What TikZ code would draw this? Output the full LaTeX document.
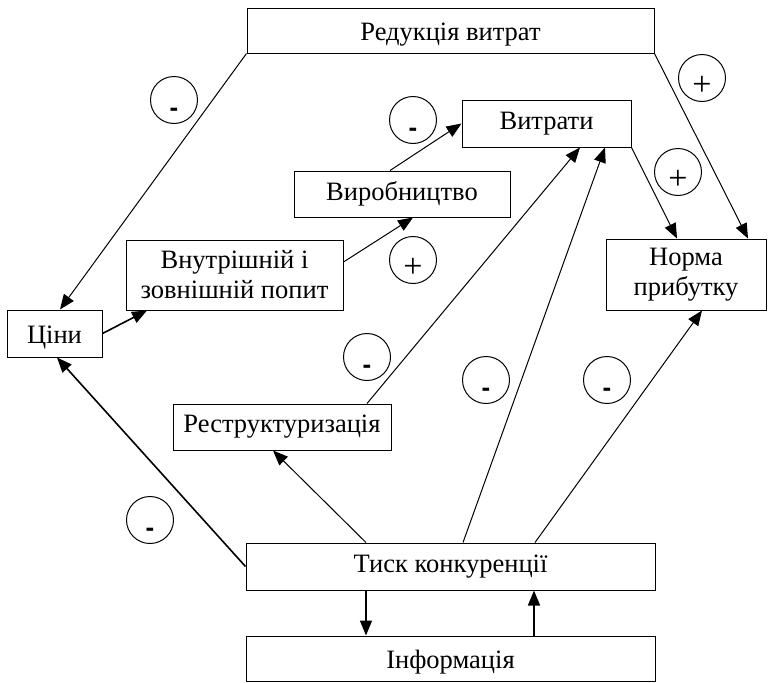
\documentclass[tikz,border=0pt]{standalone}
\usepackage{fontspec}
\setmainfont{Liberation Serif}
\newfontfamily\signfont{Liberation Sans}
\usetikzlibrary{arrows.meta}
\tikzset{
  box/.style={draw, line width=1pt, rectangle, inner sep=0pt, align=center,
    font=\fontsize{26.5}{30}\selectfont},
  low/.style={text height=25.5pt, text depth=5.5pt},
  sign/.style={draw, line width=1pt, circle, minimum size=47pt, inner sep=0pt},
  conn/.style={line width=1pt, -{Triangle[length=15pt,width=12pt]}},
  thickconn/.style={line width=1.6pt, -{Triangle[length=15pt,width=12pt]}},
  minus/.style={label={[yshift=-12pt, font=\signfont\bfseries\fontsize{26}{26}\selectfont]center:-}},
  plus/.style={label={[yshift=-8pt, font=\fontsize{34}{34}\selectfont]center:+}}
}
\begin{document}
\begin{tikzpicture}[x=1pt,y=-1pt]
\useasboundingbox (0,0) rectangle (769,683);
% boxes
\node[box, low, minimum width=407pt, minimum height=45pt] (red) at (450.5,30.5) {Редукція витрат};
\node[box, minimum width=169pt, minimum height=47pt] (vyt) at (546.5,123.5) {Витрати};
\node[box, minimum width=216pt, minimum height=46pt] (vyr) at (402,194) {Виробництво};
\node[box, minimum width=217pt, minimum height=70pt] (pop) at (234.5,275) {Внутрішній і\\зовнішній попит};
\node[box, low, minimum width=95pt, minimum height=47pt] (tsiny) at (54.5,333.5) {Ціни};
\node[box, minimum width=160pt, minimum height=71pt] (norma) at (686,274.5) {Норма\\прибутку};
\node[box, minimum width=218pt, minimum height=46pt] (restr) at (282,427) {Реструктуризація};
\node[box, minimum width=409pt, minimum height=47pt] (tysk) at (450.5,566.5) {Тиск конкуренції};
\node[box, low, minimum width=409pt, minimum height=45pt] (inf) at (450.5,658.5) {Інформація};
% sign circles
\node[sign, minus] (s1) at (174,100) {};
\node[sign, minus] (s2) at (413,120) {};
\node[sign, plus] (s3) at (702,78) {};
\node[sign, plus] (s4) at (678,172) {};
\node[sign, plus] (s5) at (413,260) {};
\node[sign, minus] (s6) at (367,357) {};
\node[sign, minus] (s7) at (150,520) {};
\node[sign, minus] (s8) at (486,380) {};
\node[sign, minus] (s9) at (607,380) {};
% connectors
\draw[conn] (red.south west) -- ([xshift=5.5pt]tsiny.north);
\draw[conn] (red.south east) -- ([xshift=62pt]norma.north);
\draw[conn] (vyt.south east) -- ([xshift=-9pt]norma.north);
\draw[conn] ([xshift=-12pt]vyr.north) -- (vyt.west);
\draw[conn] ([yshift=13pt]pop.east) -- ([xshift=11pt]vyr.south);
\draw[thickconn] (tsiny.east) -- ([xshift=-87.5pt]pop.south);
\draw[conn] ([xshift=85pt]restr.north) -- ([xshift=33.5pt]vyt.south);
\draw[conn] ([xshift=12.5pt]tysk.north) -- ([xshift=58.5pt]vyt.south);
\draw[conn] ([xshift=84.5pt]tysk.north) -- ([xshift=16pt]norma.south);
\draw[conn] ([xshift=-84.5pt]tysk.north) -- ([xshift=-9pt]restr.south);
\draw[thickconn] (tysk.west) -- ([xshift=2.5pt]tsiny.south);
\draw[thickconn] ([xshift=-84.5pt]tysk.south) -- ([xshift=-84.5pt]inf.north);
\draw[thickconn] ([xshift=83.5pt]inf.north) -- ([xshift=83.5pt]tysk.south);
\end{tikzpicture}
\end{document}
